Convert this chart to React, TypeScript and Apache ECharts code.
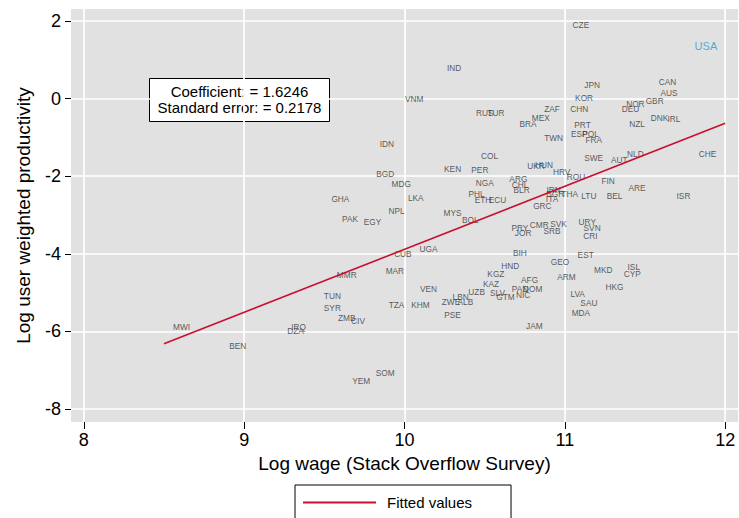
import React, { useEffect, useRef } from "react";
import * as echarts from "echarts";

// Country codes with log wage (x) and log user-weighted productivity (y)
const countries = [
  "CZE", "USA", "IND", "JPN", "CAN", "AUS", "VNM", "KOR", "GBR", "NOR",
  "DEU", "ZAF", "CHN", "RUS", "TUR", "MEX", "BRA", "DNK", "IRL", "NZL",
  "PRT", "ESP", "POL", "FRA", "TWN", "IDN", "COL", "CHE", "SWE", "NLD",
  "AUT", "UKR", "HUN", "KEN", "PER", "BGD", "HRV", "ROU", "FIN", "MDG",
  "NGA", "ARG", "CHL", "BLR", "ARE", "LKA", "PHL", "ETH", "ECU", "IRN",
  "BGR", "THA", "ITA", "GRC", "LTU", "BEL", "ISR", "GHA", "PAK", "EGY",
  "NPL", "MYS", "BOL", "PRY", "JOR", "CMR", "SVK", "SRB", "URY", "SVN",
  "CRI", "CUB", "UGA", "BIH", "EST", "GEO", "HND", "KGZ", "AFG", "ARM",
  "MKD", "ISL", "CYP", "MAR", "MMR", "KAZ", "PAN", "DOM", "NIC", "SLV",
  "GTM", "UZB", "VEN", "LBN", "ZWE", "ALB", "LVA", "HKG", "SAU", "MDA",
  "TZA", "KHM", "PSE", "JAM", "TUN", "SYR", "ZMB", "CIV", "IRQ", "DZA",
  "MWI", "BEN", "YEM", "SOM",
];

const logWage = [
  11.1, 11.88, 10.31, 11.17, 11.64, 11.65, 10.06, 11.12, 11.56, 11.44,
  11.41, 10.92, 11.09, 10.5, 10.57, 10.85, 10.77, 11.59, 11.68, 11.45,
  11.11, 11.09, 11.16, 11.18, 10.93, 9.89, 10.53, 11.89, 11.18, 11.44,
  11.34, 10.82, 10.87, 10.3, 10.47, 9.88, 10.98, 11.07, 11.27, 9.98,
  10.5, 10.71, 10.72, 10.73, 11.45, 10.07, 10.45, 10.49, 10.58, 10.93,
  10.94, 11.03, 10.92, 10.86, 11.15, 11.31, 11.74, 9.6, 9.66, 9.8,
  9.95, 10.3, 10.41, 10.72, 10.74, 10.84, 10.96, 10.92, 11.14, 11.17,
  11.16, 9.99, 10.15, 10.72, 11.13, 10.97, 10.66, 10.57, 10.78, 11.01,
  11.24, 11.43, 11.42, 9.94, 9.64, 10.54, 10.72, 10.8, 10.74, 10.58,
  10.63, 10.45, 10.15, 10.35, 10.29, 10.38, 11.08, 11.31, 11.15, 11.1,
  9.95, 10.1, 10.3, 10.81, 9.55, 9.55, 9.64, 9.71, 9.34, 9.32,
  8.61, 8.96, 9.73, 9.88,
];

const logProductivity = [
  1.9, 1.36, 0.79, 0.35, 0.43, 0.15, -0.01, 0.02, -0.06, -0.14,
  -0.27, -0.27, -0.27, -0.37, -0.37, -0.5, -0.65, -0.5, -0.52, -0.65,
  -0.68, -0.91, -0.91, -1.06, -1.01, -1.17, -1.48, -1.43, -1.53, -1.43,
  -1.58, -1.74, -1.7, -1.81, -1.84, -1.94, -1.89, -2.02, -2.12, -2.2,
  -2.17, -2.07, -2.22, -2.35, -2.3, -2.56, -2.46, -2.61, -2.61, -2.35,
  -2.47, -2.45, -2.59, -2.77, -2.5, -2.51, -2.51, -2.59, -3.11, -3.18,
  -2.89, -2.94, -3.14, -3.33, -3.46, -3.26, -3.23, -3.4, -3.18, -3.34,
  -3.54, -4.0, -3.87, -3.99, -4.03, -4.22, -4.31, -4.52, -4.67, -4.6,
  -4.42, -4.35, -4.52, -4.44, -4.54, -4.77, -4.91, -4.91, -5.06, -5.0,
  -5.12, -4.98, -4.91, -5.11, -5.24, -5.24, -5.03, -4.85, -5.26, -5.52,
  -5.32, -5.32, -5.58, -5.86, -5.08, -5.39, -5.65, -5.72, -5.88, -5.99,
  -5.88, -6.37, -7.28, -7.07,
];

// Regression summary and fitted-line range
const coefficient = 1.6246;
const standardError = 0.2178;
const intercept = -20.13;
const fitRange = [8.5, 12];

const xTicks = [8, 9, 10, 11, 12];
const yTicks = [-8, -6, -4, -2, 0, 2];

const FONT = "'Liberation Sans', Arial, Helvetica, sans-serif";
const RED = "#c8102e";
const LABEL_GREY = "#333333";
const HIGHLIGHT_BLUE = "#2b9ad2";

export default function App() {
  const ref = useRef<HTMLDivElement | null>(null);

  useEffect(() => {
    document.body.style.margin = "0";
    if (!ref.current) return;
    const chart = echarts.init(ref.current, undefined, { renderer: "svg" });

    const points = countries.map((c, i) => {
      const item: any = { name: c, value: [logWage[i], logProductivity[i]] };
      if (c === "USA") {
        item.label = { color: HIGHLIGHT_BLUE, fontSize: 11 };
      }
      return item;
    });

    const fitted = fitRange.map((x) => [x, intercept + coefficient * x]);

    chart.setOption({
      animation: false,
      backgroundColor: "#ffffff",
      textStyle: { fontFamily: FONT },
      grid: {
        left: 71,
        top: 9,
        width: 667,
        height: 413,
        show: true,
        backgroundColor: "#e1e1e1",
        borderWidth: 0,
      },
      xAxis: {
        type: "value",
        position: "bottom",
        min: 7.92,
        max: 12.08,
        name: "Log wage (Stack Overflow Survey)",
        nameLocation: "middle",
        nameGap: 30,
        nameTextStyle: { fontSize: 19, color: "#000", fontFamily: FONT },
        axisLine: { show: false, onZero: false },
        splitLine: { show: false },
        axisTick: {
          show: true,
          length: 7,
          customValues: xTicks,
          lineStyle: { color: "#000", width: 1 },
        },
        axisLabel: {
          customValues: xTicks,
          fontSize: 18,
          color: "#000",
          margin: 9,
          fontFamily: FONT,
        },
      },
      yAxis: {
        type: "value",
        position: "left",
        min: -8.335,
        max: 2.31,
        name: "Log user weighted productivity",
        nameLocation: "middle",
        nameGap: 38,
        nameTextStyle: { fontSize: 19, color: "#000", fontFamily: FONT },
        axisLine: { show: false, onZero: false },
        splitLine: { show: false },
        axisTick: {
          show: true,
          length: 6,
          customValues: yTicks,
          lineStyle: { color: "#000", width: 1 },
        },
        axisLabel: {
          customValues: yTicks,
          fontSize: 18,
          color: "#000",
          margin: 10,
          fontFamily: FONT,
        },
      },
      legend: {
        data: [{ name: "Fitted values", icon: "rect" }],
        left: 295,
        top: 485,
        orient: "horizontal",
        itemWidth: 73,
        itemHeight: 2,
        padding: [10, 39, 40, 8],
        borderColor: "#000",
        borderWidth: 1,
        borderRadius: 0,
        backgroundColor: "#fff",
        selectedMode: false,
        itemStyle: { color: RED, borderWidth: 0 },
        textStyle: { fontSize: 15, color: "#000", fontFamily: FONT, padding: [0, 0, 0, 6] },
      },
      graphic: [
        {
          type: "group",
          left: 149,
          top: 78,
          z: 100,
          children: [
            {
              type: "rect",
              shape: { x: 0, y: 0, width: 180, height: 43 },
              style: { fill: "#fff", stroke: "#000", lineWidth: 1 },
            },
            {
              type: "text",
              x: 90,
              y: 13,
              style: {
                text: `Coefficient: = ${coefficient.toFixed(4)}`,
                fontSize: 15,
                fontFamily: FONT,
                fill: "#000",
                align: "center",
                verticalAlign: "middle",
              },
            },
            {
              type: "text",
              x: 90,
              y: 29,
              style: {
                text: `Standard error: = ${standardError.toFixed(4)}`,
                fontSize: 15,
                fontFamily: FONT,
                fill: "#000",
                align: "center",
                verticalAlign: "middle",
              },
            },
          ],
        },
      ],
      series: [
        {
          // white reference grid across the whole plot region
          type: "line",
          data: [],
          z: 0,
          silent: true,
          markLine: {
            z: 0,
            silent: true,
            symbol: ["none", "none"],
            label: { show: false },
            lineStyle: { color: "#ffffff", width: 1.7, type: "solid" },
            emphasis: { disabled: true },
            data: [
              ...xTicks.map((v) => ({ xAxis: v })),
              ...yTicks.map((v) => ({ yAxis: v })),
            ],
          },
        },
        {
          type: "scatter",
          z: 6,
          symbol: "circle",
          symbolSize: 1,
          itemStyle: { color: "rgba(0,0,0,0)" },
          silent: true,
          label: {
            show: true,
            position: [0.5, 0.5],
            align: "center",
            verticalAlign: "middle",
            formatter: "{b}",
            fontSize: 8.3,
            color: LABEL_GREY,
            textBorderWidth: 0,
            textBorderColor: "transparent",
            fontFamily: FONT,
          },
          data: points,
        },
        {
          name: "Fitted values",
          type: "line",
          z: 7,
          data: fitted,
          symbol: "none",
          showSymbol: false,
          silent: true,
          color: RED,
          lineStyle: { color: RED, width: 1.6 },
        },
      ],
    });

    return () => {
      chart.dispose();
    };
  }, []);

  return <div ref={ref} style={{ width: 739, height: 518 }} />;
}
